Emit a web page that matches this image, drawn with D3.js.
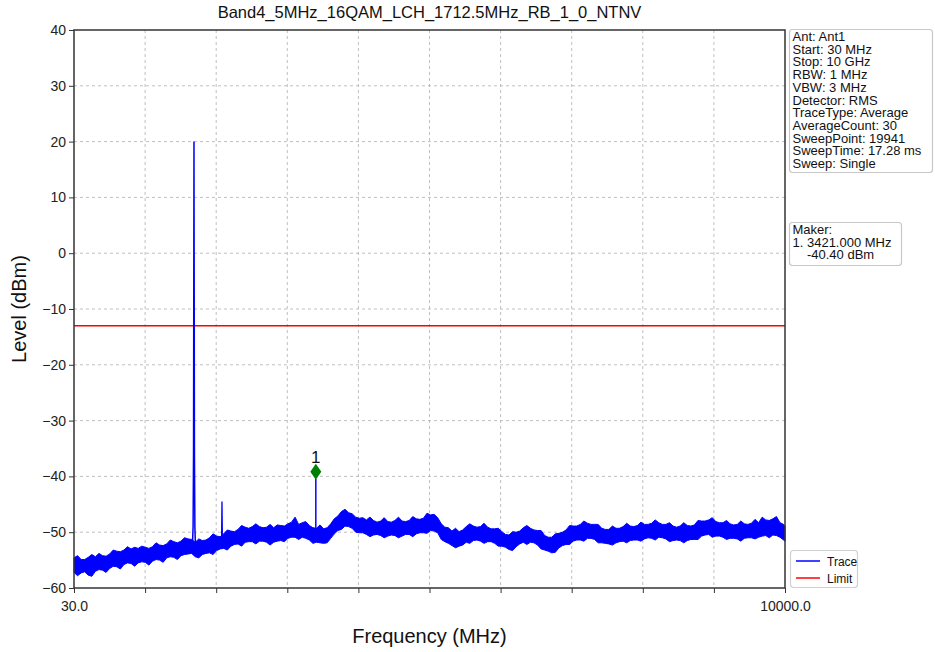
<!DOCTYPE html>
<html><head><meta charset="utf-8">
<script src="https://cdn.jsdelivr.net/npm/d3@7"></script>
<style>body{margin:0;background:#fff}svg{display:block;font-family:"Liberation Sans",Arial,sans-serif}</style>
</head><body><svg id="c" width="935" height="652"></svg>
<script>
const title = "Band4_5MHz_16QAM_LCH_1712.5MHz_RB_1_0_NTNV";
const xDomain = [30, 10000];
const yDomain = [-60, 40];
const yTicks = [-60, -50, -40, -30, -20, -10, 0, 10, 20, 30, 40];
const xTickCount = 10;
const xTickLabels = ["30.0", "10000.0"];
const limitLevel = -13;
// noise floor envelope of the trace (every 50 MHz), upper and lower edge in dBm
const floorFreq = [
30,80,130,180,230,280,330,380,430,480,
530,580,630,680,730,780,830,880,930,980,
1030,1080,1130,1180,1230,1280,1330,1380,1430,1480,
1530,1580,1630,1680,1730,1780,1830,1880,1930,1980,
2030,2080,2130,2180,2230,2280,2330,2380,2430,2480,
2530,2580,2630,2680,2730,2780,2830,2880,2930,2980,
3030,3080,3130,3180,3230,3280,3330,3380,3430,3480,
3530,3580,3630,3680,3730,3780,3830,3880,3930,3980,
4030,4080,4130,4180,4230,4280,4330,4380,4430,4480,
4530,4580,4630,4680,4730,4780,4830,4880,4930,4980,
5030,5080,5130,5180,5230,5280,5330,5380,5430,5480,
5530,5580,5630,5680,5730,5780,5830,5880,5930,5980,
6030,6080,6130,6180,6230,6280,6330,6380,6430,6480,
6530,6580,6630,6680,6730,6780,6830,6880,6930,6980,
7030,7080,7130,7180,7230,7280,7330,7380,7430,7480,
7530,7580,7630,7680,7730,7780,7830,7880,7930,7980,
8030,8080,8130,8180,8230,8280,8330,8380,8430,8480,
8530,8580,8630,8680,8730,8780,8830,8880,8930,8980,
9030,9080,9130,9180,9230,9280,9330,9380,9430,9480,
9530,9580,9630,9680,9730,9780,9830,9880,9930,9980,
10000];
const floorHigh = [
-54.6,-54.2,-54.9,-54.9,-54.5,-54.0,-54.4,-53.8,-54.2,-54.3,
-53.9,-53.2,-53.4,-53.5,-53.2,-52.6,-53.0,-52.7,-52.9,-52.5,
-52.7,-52.9,-52.6,-51.9,-52.3,-52.4,-52.1,-51.4,-51.7,-51.9,
-51.6,-51.0,-51.2,-51.3,-51.8,-51.2,-51.5,-51.4,-51.0,-50.3,
-50.7,-50.8,-50.3,-49.6,-49.8,-49.9,-49.5,-48.8,-49.1,-49.3,
-49.0,-48.5,-49.0,-49.2,-49.1,-48.6,-49.2,-48.7,-48.8,-48.9,
-48.5,-48.2,-47.3,-48.6,-48.3,-48.1,-48.8,-49.2,-49.3,-48.7,
-49.4,-49.2,-48.5,-47.6,-47.1,-46.3,-45.9,-46.5,-46.7,-47.3,
-47.5,-47.4,-47.8,-47.3,-47.9,-48.2,-48.0,-47.4,-48.1,-48.2,
-47.9,-47.3,-48.0,-48.1,-47.9,-47.2,-47.6,-47.7,-47.5,-46.6,
-46.9,-46.8,-47.4,-48.5,-49.1,-49.2,-49.8,-49.3,-49.9,-49.6,
-49.0,-48.5,-48.9,-49.1,-49.0,-48.4,-49.1,-49.4,-49.4,-49.3,
-49.9,-50.4,-50.5,-49.9,-50.0,-49.8,-49.2,-48.8,-49.3,-49.6,
-49.7,-49.7,-50.6,-50.9,-50.9,-50.3,-50.2,-50.0,-49.6,-48.8,
-48.9,-48.9,-48.6,-48.0,-48.4,-48.6,-48.6,-48.6,-49.3,-49.5,
-49.5,-48.9,-49.3,-49.3,-49.0,-48.4,-48.9,-49.0,-48.8,-48.2,
-48.6,-48.6,-48.4,-47.8,-48.3,-48.6,-48.6,-48.3,-48.9,-49.1,
-48.9,-48.3,-48.8,-48.9,-48.7,-47.9,-48.0,-48.0,-47.8,-47.4,
-48.1,-48.3,-48.3,-47.9,-48.5,-48.7,-48.6,-48.0,-48.5,-48.6,
-48.4,-47.7,-48.3,-47.3,-47.8,-47.9,-47.6,-47.2,-48.3,-48.6,
-48.9];
const floorLow = [
-57.2,-57.8,-57.3,-57.1,-57.7,-57.9,-57.0,-56.7,-56.8,-57.2,
-56.5,-56.1,-56.2,-56.6,-55.8,-55.5,-55.6,-56.1,-55.5,-55.3,
-55.4,-55.9,-55.2,-54.9,-55.0,-55.4,-54.6,-54.4,-54.5,-54.9,
-54.2,-54.0,-53.9,-53.8,-54.4,-54.6,-54.0,-53.8,-53.7,-54.0,
-53.3,-53.0,-52.9,-53.2,-52.5,-52.2,-52.1,-52.5,-51.8,-51.7,
-51.7,-52.1,-51.6,-51.6,-51.8,-52.3,-51.8,-51.6,-51.5,-51.7,
-51.1,-50.9,-50.9,-51.3,-50.9,-51.1,-51.4,-52.0,-51.8,-51.9,
-52.0,-51.9,-51.1,-50.3,-49.7,-49.5,-48.9,-49.0,-49.3,-50.0,
-50.1,-50.1,-50.4,-50.8,-50.5,-50.4,-50.6,-51.0,-50.7,-50.5,
-50.6,-51.0,-50.7,-50.4,-50.4,-50.8,-50.3,-50.1,-50.1,-50.2,
-49.7,-49.8,-50.1,-51.3,-51.7,-52.0,-52.4,-52.8,-52.5,-52.3,
-51.8,-52.0,-51.5,-51.4,-51.6,-52.0,-51.7,-51.7,-52.0,-52.5,
-52.5,-52.7,-53.1,-53.3,-52.6,-52.1,-51.8,-52.2,-51.8,-51.9,
-52.3,-53.0,-53.2,-53.4,-53.7,-53.6,-52.8,-52.4,-52.2,-52.2,
-51.6,-51.4,-51.4,-51.6,-51.1,-51.1,-51.3,-51.9,-51.9,-52.0,
-52.1,-52.3,-51.9,-51.7,-51.6,-51.9,-51.5,-51.4,-51.4,-51.6,
-51.2,-51.0,-51.1,-51.4,-50.9,-51.0,-51.2,-51.7,-51.5,-51.4,
-51.5,-51.9,-51.5,-51.3,-51.3,-51.3,-50.7,-50.5,-50.4,-50.9,
-50.7,-50.7,-50.9,-51.3,-51.1,-51.1,-51.2,-51.6,-51.1,-51.0,
-51.0,-51.2,-50.9,-50.7,-50.6,-51.0,-50.5,-50.6,-50.9,-51.4,
-51.6];
// discrete emissions on the trace
const carrierFreq = [1690, 1700, 1706, 1712.5, 1719, 1725, 1735];
const carrierLevel = [-52.6, -49, -36, 20, -36, -49, -53.5];
const spurFreq = [2099, 2105, 2111];
const spurLevel = [-51.5, -44.5, -51.5];
const markerFreq = 3421.0;
const markerLevel = -40.40;
const markerFloor = -50.5;
const infoLines = ["Ant: Ant1","Start: 30 MHz","Stop: 10 GHz","RBW: 1 MHz","VBW: 3 MHz","Detector: RMS","TraceType: Average","AverageCount: 30","SweepPoint: 19941","SweepTime: 17.28 ms","Sweep: Single"];
const makerLines = ["Maker:","1. 3421.000 MHz","    -40.40 dBm"];
const legendItems = [{name:"Trace",color:"#0000ff"},{name:"Limit",color:"#ff0000"}];

const svg = d3.select("#c");
const L = 74, R = 785, T = 30, B = 588;
const x = d3.scaleLinear().domain(xDomain).range([L, R]);
const y = d3.scaleLinear().domain(yDomain).range([B, T]);
const xt = d3.range(xTickCount + 1).map(i => xDomain[0] + i * (xDomain[1] - xDomain[0]) / xTickCount);

// grid
const grid = svg.append("g").attr("stroke", "#b0b0b0").attr("stroke-width", 0.8).attr("stroke-dasharray", "3,3");
grid.selectAll("line.v").data(xt.slice(1, -1)).join("line").attr("x1", d => x(d)).attr("x2", d => x(d)).attr("y1", T).attr("y2", B);
grid.selectAll("line.h").data(yTicks.slice(1, -1)).join("line").attr("y1", d => y(d)).attr("y2", d => y(d)).attr("x1", L).attr("x2", R);

// limit
svg.append("line").attr("x1", L).attr("x2", R).attr("y1", y(limitLevel)).attr("y2", y(limitLevel)).attr("stroke", "#ff0000").attr("stroke-width", 1.3);

// trace floor band
const band = d3.area().x((d, i) => x(floorFreq[i])).y0((d, i) => y(floorLow[i])).y1((d, i) => y(floorHigh[i]));
svg.append("path").attr("d", band(floorFreq)).attr("fill", "#0000ff").attr("stroke", "#0000ff").attr("stroke-width", 1).attr("stroke-linejoin", "miter");

const line = d3.line().x(d => x(d[0])).y(d => y(d[1]));
svg.append("path").attr("d", line(carrierFreq.map((f, i) => [f, carrierLevel[i]]))).attr("fill", "none").attr("stroke", "#0000ff").attr("stroke-width", 1.5);
svg.append("path").attr("d", line(spurFreq.map((f, i) => [f, spurLevel[i]]))).attr("fill", "none").attr("stroke", "#0000ff").attr("stroke-width", 1.3);
svg.append("path").attr("d", line([[markerFreq, markerFloor], [markerFreq, markerLevel]])).attr("fill", "none").attr("stroke", "#0000ff").attr("stroke-width", 1.5);

// marker
const mx = x(markerFreq), my = y(markerLevel) - 7;
svg.append("path").attr("d", `M${mx},${my-8}L${mx+5.5},${my}L${mx},${my+8}L${mx-5.5},${my}Z`).attr("fill", "#008000");
svg.append("text").attr("x", mx).attr("y", my - 9).attr("text-anchor", "middle").attr("font-size", 17).attr("fill", "#111").text("1");

// axes
const xa = svg.append("g").attr("transform", `translate(0,${B})`).call(d3.axisBottom(x).tickValues(xt).tickSize(5).tickFormat((d, i) => i === 0 ? xTickLabels[0] : (i === xt.length - 1 ? xTickLabels[1] : "")));
const ya = svg.append("g").attr("transform", `translate(${L},0)`).call(d3.axisLeft(y).tickValues(yTicks).tickSize(5).tickFormat(d3.format("d")));
[xa, ya].forEach(g => {
  g.select(".domain").remove();
  g.selectAll(".tick line").attr("stroke", "#333").attr("stroke-width", 1);
  g.selectAll(".tick text").attr("font-size", 14).attr("fill", "#222").attr("font-family", "Liberation Sans, Arial, sans-serif");
});
xa.selectAll(".tick text").attr("dy", "1.1em");
ya.selectAll(".tick text").attr("x", -8);
svg.append("rect").attr("x", L).attr("y", T).attr("width", R - L).attr("height", B - T).attr("fill", "none").attr("stroke", "#333").attr("stroke-width", 1.5);

// labels
svg.append("text").attr("x", (L + R) / 2).attr("y", 18).attr("text-anchor", "middle").attr("font-size", 16.5).attr("fill", "#111").text(title);
svg.append("text").attr("x", (L + R) / 2).attr("y", 643).attr("text-anchor", "middle").attr("font-size", 20).attr("fill", "#111").text("Frequency (MHz)");
svg.append("text").attr("transform", `translate(26,${(T + B) / 2}) rotate(-90)`).attr("text-anchor", "middle").attr("font-size", 20).attr("fill", "#111").text("Level (dBm)");

// info boxes
function box(x0, y0, w, h, lines) {
  svg.append("rect").attr("x", x0).attr("y", y0).attr("width", w).attr("height", h).attr("rx", 3).attr("fill", "#fff").attr("stroke", "#c8c8c8").attr("stroke-width", 1.2);
  svg.append("g").selectAll("text").data(lines).join("text").attr("x", x0 + 3).attr("y", (d, i) => y0 + 11.5 + i * 12.7).attr("font-size", 13).attr("fill", "#111").attr("xml:space", "preserve").style("white-space", "pre").text(d => d);
}
box(789.5, 29.5, 143, 143, infoLines);
box(789.5, 222.5, 112, 43, makerLines);

// legend
svg.append("rect").attr("x", 790.5).attr("y", 550.5).attr("width", 67).attr("height", 37).attr("rx", 3).attr("fill", "#fff").attr("stroke", "#d0d0d0").attr("stroke-width", 1.2);
const lg = svg.append("g").selectAll("g").data(legendItems).join("g").attr("transform", (d, i) => `translate(796,${561 + i * 17})`);
lg.append("line").attr("x1", 0).attr("x2", 24).attr("stroke", d => d.color).attr("stroke-width", 1.5);
lg.append("text").attr("x", 31).attr("y", 4.5).attr("font-size", 12).attr("fill", "#111").text(d => d.name);
</script></body></html>
